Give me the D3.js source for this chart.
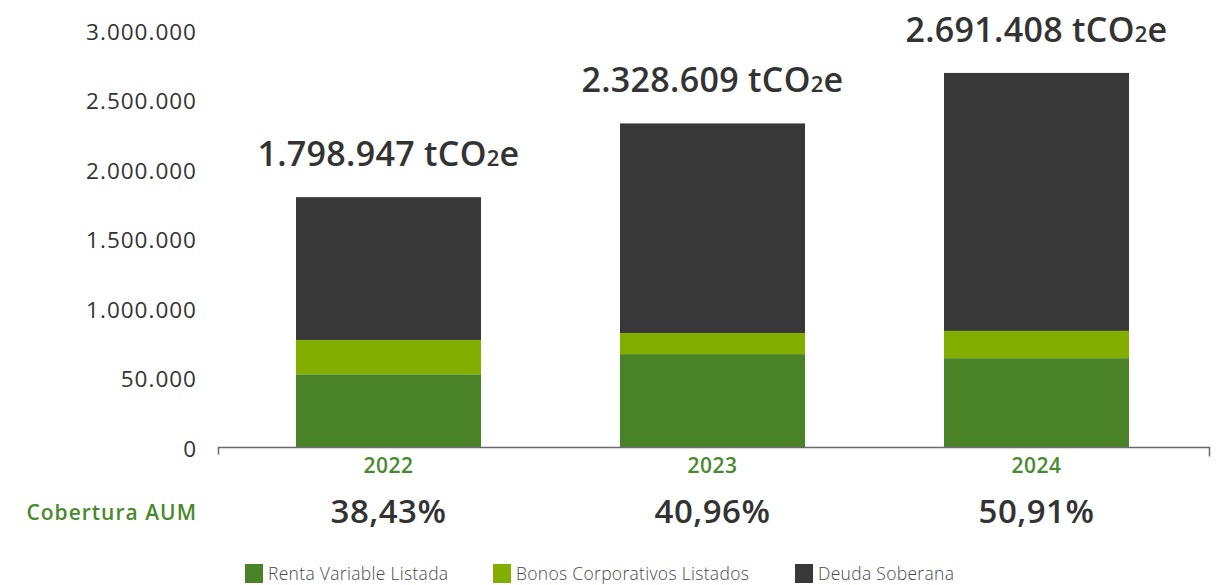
<!DOCTYPE html>
<html lang="es">
<head>
<meta charset="utf-8">
<script src="https://cdn.jsdelivr.net/npm/d3@7"></script>
<style>
  html, body { margin: 0; padding: 0; background: #ffffff; }
  svg { display: block; }
  text { font-family: "Open Sans", "Noto Sans", sans-serif; }
</style>
</head>
<body>
<svg id="chart" width="1221" height="585"></svg>
<script>
// Financed emissions by year (tCO2e), split by asset class
const years = ["2022", "2023", "2024"];
const rentaVariable = [526000, 671000, 642000];
const bonosCorporativos = [247000, 152000, 196000];
const deudaSoberana = [1025947, 1505609, 1853408];
const totalLabels = ["1.798.947", "2.328.609", "2.691.408"];
const coberturaAUM = ["38,43%", "40,96%", "50,91%"];

const seriesNames = ["Renta Variable Listada", "Bonos Corporativos Listados", "Deuda Soberana"];
const seriesColors = ["#4a8228", "#82ae00", "#383838"];

const yTickValues = [0, 500000, 1000000, 1500000, 2000000, 2500000, 3000000];
const yTickLabels = ["0", "50.000", "1.000.000", "1.500.000", "2.000.000", "2.500.000", "3.000.000"];

const svg = d3.select("#chart");

const rows = years.map((y, i) => ({
  year: y,
  rv: rentaVariable[i],
  bc: bonosCorporativos[i],
  ds: deudaSoberana[i]
}));
const keys = ["rv", "bc", "ds"];

const x = d3.scaleBand()
  .domain(years)
  .range([226.5, 1198.5])
  .paddingInner(0.429)
  .paddingOuter(0.2145);

const y = d3.scaleLinear()
  .domain([0, 3000000])
  .range([447.5, 30]);

const color = d3.scaleOrdinal().domain(keys).range(seriesColors);

// Stacked bars
const stacked = d3.stack().keys(keys)(rows);
svg.append("g")
  .selectAll("g")
  .data(stacked)
  .join("g")
  .attr("fill", d => color(d.key))
  .selectAll("rect")
  .data(d => d)
  .join("rect")
  .attr("x", d => x(d.data.year))
  .attr("width", x.bandwidth())
  .attr("y", d => y(d[1]))
  .attr("height", d => y(d[0]) - y(d[1]));

// Y axis labels (no axis line)
const yAxis = d3.axisLeft(y)
  .tickValues(yTickValues)
  .tickFormat((d, i) => yTickLabels[i])
  .tickSize(0)
  .tickPadding(0);
const yg = svg.append("g").attr("transform", "translate(197,0)").call(yAxis);
yg.select(".domain").remove();
yg.selectAll("text")
  .attr("dy", "0.4em")
  .attr("fill", "#333333")
  .style("font-family", "'Open Sans', sans-serif")
  .style("font-size", "22.5px")
  .style("font-weight", "400")
  .style("letter-spacing", "1px");

// Baseline with end ticks
svg.append("path")
  .attr("d", `M218.5,${y(0) + 7}V${y(0)}H1209.5V${y(0) + 9}`)
  .attr("fill", "none")
  .attr("stroke", "#6a6a6a")
  .attr("stroke-width", 1.5);

// Year labels
svg.append("g")
  .selectAll("text")
  .data(years)
  .join("text")
  .attr("x", d => x(d) + x.bandwidth() / 2)
  .attr("y", 473)
  .attr("text-anchor", "middle")
  .attr("fill", "#4a8a2e")
  .style("font-size", "21px")
  .style("font-weight", "600")
  .style("letter-spacing", "0.5px")
  .text(d => d);

// Total labels above bars
const totals = svg.append("g")
  .selectAll("text")
  .data(rows)
  .join("text")
  .attr("x", d => x(d.year) + x.bandwidth() / 2)
  .attr("y", d => y(d.rv + d.bc + d.ds) - 31)
  .attr("text-anchor", "middle")
  .attr("fill", "#333333")
  .style("font-size", "34px")
  .style("font-weight", "600")
  .style("letter-spacing", "0.3px");
totals.append("tspan").text((d, i) => totalLabels[i] + " tCO");
totals.append("tspan").style("font-size", "22px").text("2");
totals.append("tspan").text("e");

// Coverage row
svg.append("text")
  .attr("x", 197)
  .attr("y", 520)
  .attr("text-anchor", "end")
  .attr("fill", "#4a8a2e")
  .style("font-size", "21px")
  .style("font-weight", "600")
  .style("letter-spacing", "1px")
  .text("Cobertura AUM");

svg.append("g")
  .selectAll("text")
  .data(coberturaAUM)
  .join("text")
  .attr("x", (d, i) => x(years[i]) + x.bandwidth() / 2)
  .attr("y", 523)
  .attr("text-anchor", "middle")
  .attr("fill", "#333333")
  .style("font-size", "33px")
  .style("font-weight", "600")
  .style("letter-spacing", "0.5px")
  .text(d => d);

// Legend
const legendX = [245, 493, 795];
const legend = svg.append("g")
  .selectAll("g")
  .data(seriesNames)
  .join("g")
  .attr("transform", (d, i) => `translate(${legendX[i]},564)`);
legend.append("rect")
  .attr("width", 18)
  .attr("height", 19)
  .attr("fill", (d, i) => seriesColors[i]);
legend.append("text")
  .attr("x", 23)
  .attr("y", 16)
  .attr("fill", "#4a4a4a")
  .style("font-size", "17.5px")
  .style("font-weight", "300")
  .style("letter-spacing", "0.3px")
  .text(d => d);
</script>
</body>
</html>
